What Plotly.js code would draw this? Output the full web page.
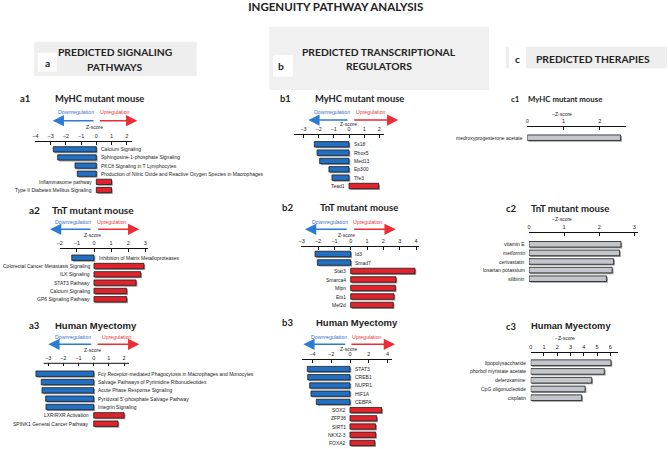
<!DOCTYPE html>
<html><head><meta charset="utf-8">
<script src="https://cdn.plot.ly/plotly-3.0.1.min.js"></script>
<style>html,body{margin:0;padding:0;background:#fff}#chart{width:668px;height:449px}</style>
</head><body><div id="chart"></div>
<script>
// ---- data ----
const a1Labels = ['Calcium Signaling','Sphingosine-1-phosphate Signaling','PKCθ Signaling in T Lymphocytes','Production of Nitric Oxide and Reactive Oxygen Species in Macrophages','Inflammasome pathway','Type II Diabetes Mellitus Signaling'];
const a1Values = [-2.83,-2.54,-1.4,-1.25,1.0,1.0];
const a2Labels = ['Inhibition of Matrix Metalloproteases','Colorectal Cancer Metastasis Signaling','ILK Signaling','STAT3 Pathway','Calcium Signaling','GP6 Signaling Pathway'];
const a2Values = [-1.3,2.92,2.73,2.46,1.91,1.91];
const a3Labels = ['Fcγ Receptor-mediated Phagocytosis in Macrophages and Monocytes','Salvage Pathways of Pyrimidine Ribonucleotides','Acute Phase Response Signaling',"Pyridoxal 5'-phosphate Salvage Pathway",'Integrin Signaling','LXR/RXR Activation','SPINK1 General Cancer Pathway'];
const a3Values = [-3.8,-3.45,-3.4,-3.16,-3.14,2.0,1.6];
const b1Labels = ['Ss18','Rhox5','Med13','Ep300','Tfe3','Tead1'];
const b1Values = [-2.28,-2.1,-1.93,-1.32,-1.12,1.95];
const b2Labels = ['Id3','Smad7','Stat3','Smarca4','Mtpn','Ets1','Mef2d'];
const b2Values = [-2.18,-2.04,3.93,2.77,2.73,2.65,2.6];
const b3Labels = ['STAT3','CREB1','NUPR1','HIF1A','CEBPA','SOX2','ZFP36','SIRT1','NKX2-3','FOXA2'];
const b3Values = [-4.54,-4.5,-4.29,-4.15,-3.58,3.37,2.84,2.73,2.73,2.63];
const c1Labels = ['medroxyprogesterone acetate'];
const c1Values = [2.57];
const c2Labels = ['vitamin E','metformin','cerivastatin','losartan potassium','silibinin'];
const c2Values = [2.62,2.58,2.41,2.37,2.21];
const c3Labels = ['lipopolysaccharide','phorbol myristate acetate','deferoxamine','CpG oligonucleotide','cisplatin'];
const c3Values = [6.05,5.55,4.6,4.1,3.84];

// ---- layout helpers ----
const W=668,H=449;
const fx=p=>p/W, fy=p=>1-p/H;
const BLUE='#2170c4', RED='#e3232b', GREY='#c3c6cd', SHADOW='#9c9c9c';
const SANS='Liberation Sans, Arial, sans-serif';
const LATO='Lato, Liberation Sans, sans-serif';
const BW=0.65, SH=1.3; // bar width (category units), shadow offset px

const panels=[
 {labels:a1Labels, values:a1Values, zero:96.3, ppu:15.2, left:35, right:131.7, lineY:141.7, firstY:149.3, sp:8.14, dtick:1},
 {labels:a2Labels, values:a2Values, zero:94, ppu:17.1, left:59.5, right:147.7, lineY:249, firstY:257.7, sp:8.32, dtick:1},
 {labels:a3Labels, values:a3Values, zero:93.7, ppu:15.2, left:43.7, right:129.3, lineY:363.3, firstY:373.7, sp:8.33, dtick:1, ext:-3.95},
 {labels:b1Labels, values:b1Values, zero:349, ppu:15.2, left:294, right:383.7, lineY:134.7, firstY:144.3, sp:8.34, dtick:1},
 {labels:b2Labels, values:b2Values, zero:350.7, ppu:16.35, left:301, right:419.3, lineY:246.7, firstY:254, sp:8.5, dtick:1},
 {labels:b3Labels, values:b3Values, zero:350, ppu:9.4, left:302.3, right:391.7, lineY:360, firstY:369.3, sp:8.44, dtick:2},
 {labels:c1Labels, values:c1Values, zero:527.3, ppu:36.3, left:527.3, right:626, lineY:127.3, firstY:137.7, sp:8.5, dtick:1, grey:true},
 {labels:c2Labels, values:c2Values, zero:529, ppu:35.1, left:529, right:638.3, lineY:233.3, firstY:244.3, sp:8.6, dtick:1, grey:true},
 {labels:c3Labels, values:c3Values, zero:530.7, ppu:13.27, left:530.7, right:617.7, lineY:353.3, firstY:362.7, sp:8.75, dtick:1, grey:true}
];

const data=[], annotations=[], shapes=[];
const layout={width:W,height:H,margin:{l:0,r:0,t:0,b:0},paper_bgcolor:'#fff',plot_bgcolor:'rgba(0,0,0,0)',showlegend:false,barmode:'overlay',
  title:{text:'<b>INGENUITY PATHWAY ANALYSIS</b>',font:{family:LATO,size:11.5,color:'#222'},x:fx(335.7),xanchor:'center',xref:'paper',yref:'paper',y:fy(7),yanchor:'middle'}};

panels.forEach((p,i)=>{
  const k=i+1, sfx=k>1?String(k):'';
  const xa='x'+sfx, ya='y'+sfx;
  const n=p.labels.length;
  const r0=(p.left-p.zero)/p.ppu, r1=(p.right-p.zero)/p.ppu;
  const rl = p.ext!==undefined ? p.ext : r0;
  const dl = p.zero + rl*p.ppu;
  const bottom = p.firstY + (n-0.5)*p.sp;
  const colors = p.values.map(v=>p.grey?GREY:(v<0?BLUE:RED));
  // drop shadow (same values, shifted a pixel right/down)
  data.push({type:'bar',orientation:'h',x:p.values,y:p.labels,base:p.values.map(()=>SH/p.ppu),
    xaxis:xa,yaxis:ya,width:BW,offset:-BW/2+SH/p.sp,marker:{color:SHADOW,line:{width:0}},hoverinfo:'skip'});
  data.push({type:'bar',orientation:'h',x:p.values,y:p.labels,xaxis:xa,yaxis:ya,width:BW,offset:-BW/2,
    marker:{color:colors,line:{color:'#1a1a1a',width:0.8}},hoverinfo:'skip'});
  layout['xaxis'+sfx]={domain:[fx(dl),fx(p.right)],range:[rl,r1],side:'top',anchor:ya,
    showline:p.ext===undefined,linecolor:'#111',linewidth:1,ticks:'inside',ticklen:3,tickwidth:1,tickcolor:'#111',
    dtick:p.dtick,tick0:0,tickfont:{family:SANS,size:5.5,color:'#222'},ticklabelstandoff:1,
    showgrid:false,zeroline:false,fixedrange:true};
  layout['yaxis'+sfx]={domain:[fy(bottom+2),fy(p.lineY)],range:[n-0.5+2/p.sp,-(p.firstY-p.lineY)/p.sp],type:'category',
    anchor:xa,visible:false,fixedrange:true};
  if(p.ext!==undefined){
    shapes.push({type:'line',xref:xa,yref:'paper',x0:r0,x1:r1,y0:fy(p.lineY),y1:fy(p.lineY),line:{color:'#111',width:1}});
  }
  p.labels.forEach((lab,j)=>{
    const v=p.values[j];
    annotations.push({xref:xa,yref:ya,x:0,y:lab,text:lab,showarrow:false,
      xanchor:v<0?'left':'right',yanchor:'middle',xshift:v<0?2.5:-2.5,
      font:{family:SANS,size:5,color:'#222'}});
  });
});

function txt(text,x,y,size,opts){
  annotations.push(Object.assign({xref:'paper',yref:'paper',x:fx(x),y:fy(y),text:text,showarrow:false,
    xanchor:'center',yanchor:'middle',font:{family:SANS,size:size,color:'#222'}},opts||{}));
}
function arrow(tailX,headX,y,color){
  annotations.push({xref:'paper',yref:'paper',x:fx(headX),y:fy(y),ax:tailX-headX,ay:0,axref:'pixel',ayref:'pixel',
    showarrow:true,arrowhead:2,arrowsize:1.5,arrowwidth:1.5,arrowcolor:color,text:'',standoff:0,startstandoff:0});
}
function rect(x0,x1,y0,y1,color){
  shapes.push({type:'rect',xref:'paper',yref:'paper',x0:fx(x0),x1:fx(x1),y0:fy(y1),y1:fy(y0),fillcolor:color,line:{width:0},layer:'below'});
}

// header boxes
rect(34.3,196.7,41.7,76,'#eeeeee'); rect(37.7,56.7,52.7,71.7,'#ffffff');
rect(269.3,489,26.7,90,'#f0f0f0'); rect(273,293,55,76.7,'#ffffff');
rect(505.7,667,46.7,68.3,'#eeeeee'); rect(509,526,46.7,68.3,'#ffffff');
const HF={family:LATO,size:10.3,color:'#222'};
txt('<b>a</b>',47.7,62.7,10,{font:HF});
txt('<b>PREDICTED SIGNALING</b>',115.5,52.3,10,{font:HF});
txt('<b>PATHWAYS</b>',115,66.7,10,{font:HF});
txt('<b>b</b>',281,65.7,10,{font:HF});
txt('<b>PREDICTED TRANSCRIPTIONAL</b>',378.7,52.3,10,{font:HF});
txt('<b>REGULATORS</b>',379.3,65.7,10,{font:HF});
txt('<b>c</b>',517.3,59.3,10,{font:HF});
txt('<b>PREDICTED THERAPIES</b>',592.8,59.3,10,{font:HF});

// panel titles
function ptitle(tag,tagX,title,titleX,y,size,fam){
  txt('<b>'+tag+'</b>',tagX,y,size,{xanchor:'left',font:{family:LATO,size:size,color:'#222'}});
  txt('<b>'+title+'</b>',titleX,y,size,{xanchor:'left',font:{family:fam||LATO,size:size,color:'#222'}});
}
ptitle('a1',18.3,'MyHC mutant mouse',53.3,98.3,9.4);
ptitle('a2',26.7,'TnT mutant mouse',50,210,10);
ptitle('a3',26.7,'Human Myectomy',53.3,325,9.5,SANS);
ptitle('b1',278.3,'MyHC mutant mouse',313.3,98.3,9.4);
ptitle('b2',280,'TnT mutant mouse',317.7,207.3,9.6);
ptitle('b3',280,'Human Myectomy',314.3,322.7,9.5,SANS);
ptitle('c1',509,'MyHC mutant mouse',525.7,99.3,7.8);
ptitle('c2',504,'TnT mutant mouse',529.3,208.3,9.6);
ptitle('c3',504,'Human Myectomy',529.3,326,9.3,SANS);

// regulation arrows
const DOWNC='#3a6fc8', UPC='#ea3540', ARB='#2b7bd3', ARR='#ef2b35';
const reg=[
 {y:120.7,lt:95,lh:52.7,rt:98.3,rh:137.3,dx:76,ux:115,ty:112.3,zx:94,zy:126.7},
 {y:229.3,lt:92,lh:50,rt:96.7,rh:139.3,dx:73.3,ux:112.3,ty:222,zx:93,zy:234.7},
 {y:344.3,lt:92.7,lh:48.3,rt:96,rh:139.3,dx:72.7,ux:116.7,ty:336.7,zx:92.7,zy:350},
 {y:120,lt:349,lh:308.3,rt:352.7,rh:398.3,dx:331.7,ux:370.8,ty:111.7,zx:348.3,zy:124},
 {y:229.3,lt:348.3,lh:305,rt:352.7,rh:395.7,dx:330,ux:368,ty:222,zx:346.7,zy:234.7},
 {y:344.3,lt:346.7,lh:303.3,rt:350,rh:395,dx:328.7,ux:367,ty:337.3,zx:348.3,zy:349.3}
];
reg.forEach(r=>{
  arrow(r.lt,r.lh,r.y,ARB); arrow(r.rt,r.rh,r.y,ARR);
  txt('Downregulation',r.dx,r.ty,5.2,{font:{family:SANS,size:5.2,color:DOWNC}});
  txt('Upregulation',r.ux,r.ty,5.2,{font:{family:SANS,size:5.2,color:UPC}});
  txt('Z-score',r.zx,r.zy,5);
});
txt('−Z-score',561.7,114,5);
txt('−Z-score',561.7,219.3,5);
txt('−Z-score',565,338.3,5);

layout.annotations=annotations;
layout.shapes=shapes;
Plotly.newPlot('chart',data,layout,{staticPlot:true,displayModeBar:false});
</script></body></html>
